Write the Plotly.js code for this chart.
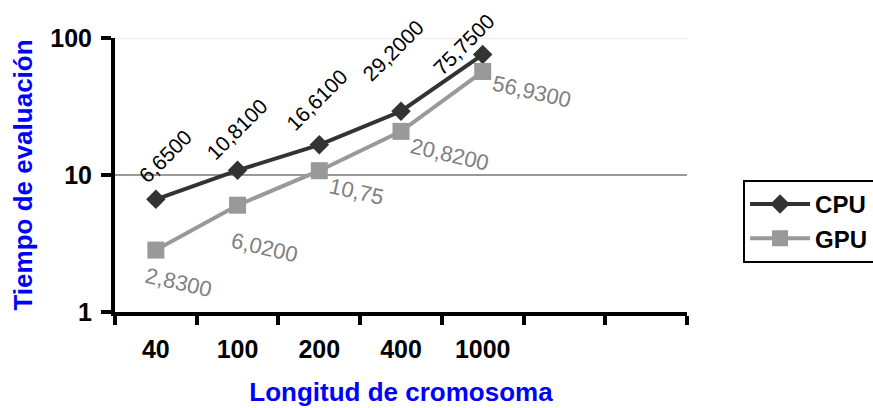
<!DOCTYPE html>
<html>
<head>
<meta charset="utf-8">
<script src="https://cdn.plot.ly/plotly-3.0.1.min.js"></script>
<style>html,body{margin:0;padding:0;background:#fff;}#chart{width:873px;height:408px;}</style>
</head>
<body>
<div id="chart"></div>
<script>
// ---- data ----
const categories = ['40', '100', '200', '400', '1000'];
const emptyCategories = [' ', '  '];
const cpuTimes = [6.65, 10.81, 16.61, 29.2, 75.75];
const gpuTimes = [2.83, 6.02, 10.75, 20.82, 56.93];
const cpuLabels = ['6,6500', '10,8100', '16,6100', '29,2000', '75,7500'];
const gpuLabels = ['2,8300', '6,0200', '10,75', '20,8200', '56,9300'];
const yTickVals = [1, 10, 100];
const yTickText = ['1', '10', '100'];

// ---- styles / label offsets (px) ----
const cpuShift = [[9, 43], [-1, 41], [-2, 45], [-8, 61], [-19, 10]];
const gpuShift = [[23, -32], [27, -42], [37, -21], [49, -23], [49, -20]];
const FONT = 'Liberation Sans, Arial, sans-serif';

const traces = [
  {
    x: categories, y: cpuTimes, name: 'CPU', type: 'scatter', mode: 'lines+markers',
    line: {color: '#333333', width: 4},
    marker: {symbol: 'diamond', size: 15, color: '#333333'}
  },
  {
    x: categories, y: gpuTimes, name: 'GPU', type: 'scatter', mode: 'lines+markers',
    line: {color: '#999999', width: 4},
    marker: {symbol: 'square', size: 17, color: '#999999'}
  }
];

const annotations = [];
categories.forEach((c, i) => {
  annotations.push({
    x: i, y: Math.log10(cpuTimes[i]), xref: 'x', yref: 'y', text: cpuLabels[i],
    showarrow: false, textangle: -45, xanchor: 'center', yanchor: 'middle',
    xshift: cpuShift[i][0], yshift: cpuShift[i][1],
    font: {family: FONT, size: 21, color: '#000000'}
  });
  annotations.push({
    x: i, y: Math.log10(gpuTimes[i]), xref: 'x', yref: 'y', text: gpuLabels[i],
    showarrow: false, textangle: 13, xanchor: 'center', yanchor: 'middle',
    xshift: gpuShift[i][0], yshift: gpuShift[i][1],
    font: {family: FONT, size: 22, color: '#808080'}
  });
});

const gridLines = [
  {v: 100, color: '#d9d9d9', width: 1},
  {v: 10, color: '#999999', width: 2}
];
const shapes = gridLines.map(g => ({
  type: 'line', xref: 'paper', x0: 0, x1: 1, yref: 'y', y0: g.v, y1: g.v,
  line: {color: g.color, width: g.width}, layer: 'below'
}));

const layout = {
  width: 873, height: 408,
  margin: {l: 115, r: 186, t: 38, b: 96, pad: 0, autoexpand: false},
  paper_bgcolor: '#ffffff', plot_bgcolor: '#ffffff',
  font: {family: FONT, color: '#000000'},
  showlegend: true,
  legend: {
    x: 1.098, y: 0.482, xanchor: 'left', yanchor: 'top',
    bordercolor: '#000000', borderwidth: 2, bgcolor: '#ffffff',
    itemwidth: 60,
    font: {family: FONT, size: 24, weight: 700, color: '#000000'}
  },
  xaxis: {
    type: 'category',
    categoryorder: 'array',
    categoryarray: categories.concat(emptyCategories),
    range: [-0.5, 6.5],
    tickson: 'boundaries',
    ticks: 'outside', ticklen: 9, tickwidth: 4, tickcolor: '#000000',
    showline: true, linecolor: '#000000', linewidth: 4,
    showgrid: false, zeroline: false,
    ticklabelstandoff: 12,
    tickfont: {family: FONT, size: 25, weight: 700, color: '#000000'},
    title: {text: 'Longitud de cromosoma', standoff: 22,
            font: {family: FONT, size: 26, weight: 700, color: '#0000ff'}}
  },
  yaxis: {
    type: 'log', range: [0, 2],
    tickvals: yTickVals, ticktext: yTickText,
    ticks: 'outside', ticklen: 10, tickwidth: 4, tickcolor: '#000000',
    showline: true, linecolor: '#000000', linewidth: 4,
    showgrid: false, zeroline: false,
    ticklabelstandoff: 4,
    tickfont: {family: FONT, size: 25, weight: 700, color: '#000000'},
    title: {text: 'Tiempo de evaluación', standoff: 11,
            font: {family: FONT, size: 26, weight: 700, color: '#0000ff'}}
  },
  annotations: annotations,
  shapes: shapes
};

Plotly.newPlot('chart', traces, layout, {displayModeBar: false, staticPlot: true});
</script>
</body>
</html>
